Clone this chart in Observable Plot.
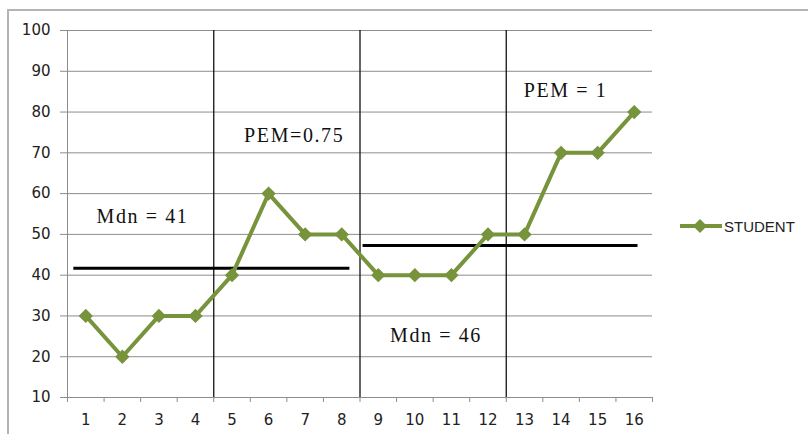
<!DOCTYPE html>
<html>
<head>
<meta charset="utf-8">
<script src="https://cdn.jsdelivr.net/npm/d3@7"></script>
<script src="https://cdn.jsdelivr.net/npm/@observablehq/plot@0.6"></script>
<style>
  html, body { margin: 0; padding: 0; background: #fff; }
  #wrap { position: relative; width: 808px; height: 434px; overflow: hidden; }
  #frame { position: absolute; left: 7px; top: 9px; width: 820px; height: 440px;
           border-left: 2px solid #b4b4b4; border-top: 2px solid #b4b4b4; pointer-events: none; }
  #legend { position: absolute; left: 680px; top: 216px; display: flex; align-items: center;
            font-family: "Liberation Sans", Arial, sans-serif; font-size: 15px; color: #222; }
  #chart { position: absolute; left: 0; top: 0; }
  #chart .ticklab text { font-size: 15px; font-family: "DejaVu Sans", Verdana, sans-serif; }
</style>
</head>
<body>
<div id="wrap">
  <div id="chart"></div>
  <div id="frame"></div>
  <div id="legend"></div>
</div>
<script>
// ---- data ----
const sessions = [1, 2, 3, 4, 5, 6, 7, 8, 9, 10, 11, 12, 13, 14, 15, 16];
const scores   = [30, 20, 30, 30, 40, 60, 50, 50, 40, 40, 40, 50, 50, 70, 70, 80];
const phaseChanges = [4.5, 8.5, 12.5];
const medianStart = [0.66, 8.57];
const medianEnd   = [8.21, 16.09];
const medianLevel = [41.7, 47.3];
const noteText = ["Mdn = 41", "PEM=0.75", "Mdn = 46", "PEM = 1"];
const noteX    = [2.55, 6.7, 10.58, 14.12];
const noteY    = [54.3, 74.2, 25.1, 85.2];
const yTicks   = [10, 20, 30, 40, 50, 60, 70, 80, 90, 100];
const seriesName = "STUDENT";

const color = "#77933C";
const points = sessions.map((s, i) => ({session: s, score: scores[i]}));
const medians = medianLevel.map((v, i) => ({x1: medianStart[i], x2: medianEnd[i], y: v}));
const notes = noteText.map((t, i) => ({text: t, x: noteX[i], y: noteY[i]}));
const boundaries = d3.range(0.5, 17, 1);

const chart = Plot.plot({
  width: 808,
  height: 434,
  marginLeft: 67,
  marginRight: 156,
  marginTop: 30,
  marginBottom: 37,
  style: {fontFamily: "DejaVu Sans, Verdana, sans-serif", fontSize: "14px", color: "#222", background: "transparent"},
  x: {domain: [0.5, 16.5], axis: null},
  y: {domain: [10, 100], axis: null},
  marks: [
    Plot.gridY(yTicks, {stroke: "#8c8c8c", strokeOpacity: 1, strokeWidth: 1}),
    Plot.ruleX([0.5], {stroke: "#8c8c8c", strokeWidth: 1}),
    Plot.ruleY([10], {stroke: "#8c8c8c", strokeWidth: 1}),
    Plot.axisY(yTicks, {tickSize: 7, tickPadding: 10, stroke: "#8c8c8c", fill: "#222", fontSize: 15, className: "ticklab", tickFormat: d => String(d)}),
    Plot.axisX(boundaries, {tickSize: 5, tickFormat: () => "", stroke: "#8c8c8c"}),
    Plot.axisX(sessions, {tickSize: 0, tickPadding: 17, fill: "#222", fontSize: 15, className: "ticklab"}),
    Plot.ruleX(phaseChanges, {y1: 10, y2: 100, stroke: "#111", strokeWidth: 1.3}),
    Plot.link(medians, {x1: "x1", x2: "x2", y1: "y", y2: "y", stroke: "#000", strokeWidth: 3}),
    Plot.line(points, {x: "session", y: "score", stroke: color, strokeWidth: 4}),
    Plot.dot(points, {x: "session", y: "score", symbol: "diamond2", r: 5.5, fill: color, stroke: color}),
    Plot.text(notes, {x: "x", y: "y", text: "text", fontFamily: "Liberation Serif, Times New Roman, serif",
      fontSize: 20, fill: "#111"})
  ]
});
chart.querySelectorAll('g[font-family^="Liberation Serif"] text').forEach(t => t.style.letterSpacing = "1.6px");
chart.querySelectorAll('g[aria-label$="tick label"] text').forEach(t => { t.style.fontSize = "15px"; });
document.getElementById("chart").appendChild(chart);

// legend
const lg = document.getElementById("legend");
lg.innerHTML = `<svg width="44" height="20"><line x1="0" y1="10" x2="42" y2="10" stroke="${color}" stroke-width="4"/>` +
  `<path d="M20,3 L27,10 L20,17 L13,10 Z" fill="${color}"/></svg><span>${seriesName}</span>`;
</script>
</body>
</html>
